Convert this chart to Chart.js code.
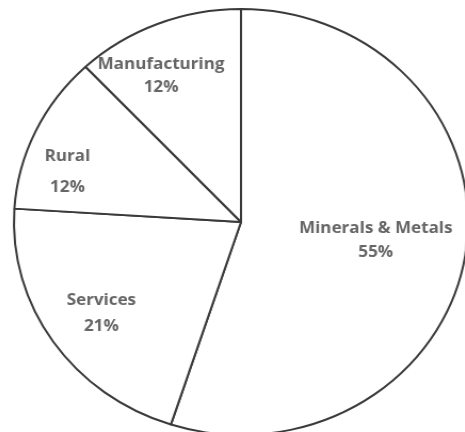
<!DOCTYPE html>
<html lang="en">
<head>
  <meta charset="UTF-8" />
  <title>Lending by sector</title>
  <script src="https://cdn.jsdelivr.net/npm/chart.js"></script>
  <style>
    html, body { margin: 0; padding: 0; background: #fff; overflow: hidden; }
    .wrap {
      position: absolute; left: 0; top: 0;
      width: 465px; height: 438px;
      /* the pie is a little wider than tall */
      transform: scaleX(1.066);
      transform-origin: 241px 222px;
    }
  </style>
</head>
<body>
  <div class="wrap">
    <canvas id="pieChart"></canvas>
  </div>

  <script>
    const sectors = ["Minerals & Metals", "Services", "Rural", "Manufacturing"];
    const shares = [55, 21, 12, 12];

    // label placement per slice: fraction of radius, angle nudge (deg), line gap (px)
    const labelSpots = [
      { r: 0.60, turn: -0.5, gap: 24 },
      { r: 0.75, turn: -0.7, gap: 26 },
      { r: 0.80, turn: -8, gap: 31 },
      { r: 0.77, turn: -5.6, gap: 23 }
    ];

    const sliceLabels = {
      id: "sliceLabels",
      afterDatasetsDraw(chart) {
        const ctx = chart.ctx;
        const meta = chart.getDatasetMeta(0);
        ctx.save();
        ctx.fillStyle = "#666";
        ctx.font = "bold 16px 'Open Sans'";
        ctx.textAlign = "center";
        ctx.textBaseline = "middle";
        meta.data.forEach((arc, i) => {
          const spot = labelSpots[i];
          const mid = (arc.startAngle + arc.endAngle) / 2 + spot.turn * Math.PI / 180;
          const dist = arc.outerRadius * spot.r;
          const x = arc.x + Math.cos(mid) * dist;
          const y = arc.y + Math.sin(mid) * dist;
          ctx.fillText(sectors[i], x, y - spot.gap / 2);
          ctx.fillText(shares[i] + "%", x, y + spot.gap / 2);
        });
        ctx.restore();
      }
    };

    new Chart(document.getElementById("pieChart").getContext("2d"), {
      type: "pie",
      data: {
        labels: sectors,
        datasets: [{
          data: shares,
          backgroundColor: "#fff",
          borderColor: "#3a3a3a",
          borderWidth: 2
        }]
      },
      options: {
        responsive: true,
        maintainAspectRatio: false,
        animation: false,
        layout: { padding: { left: 17, right: 0, top: 8, bottom: 2 } },
        plugins: {
          legend: { display: false },
          tooltip: { enabled: false }
        }
      },
      plugins: [sliceLabels]
    });
  </script>
</body>
</html>
